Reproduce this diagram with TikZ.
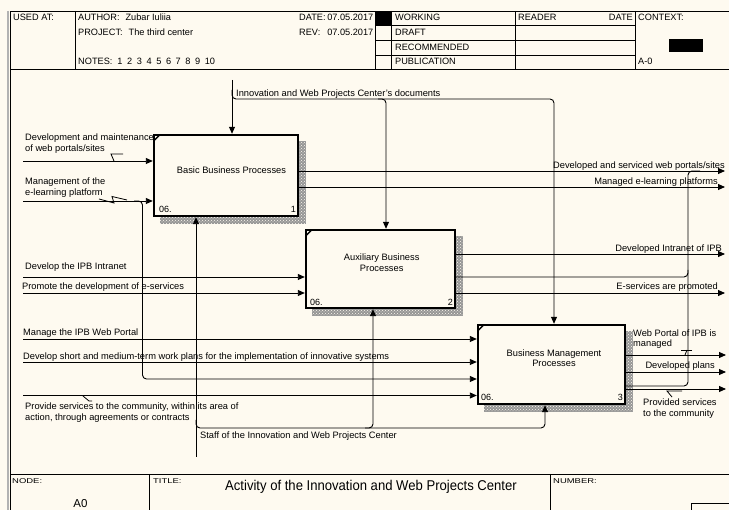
\documentclass[tikz,border=0pt]{standalone}
\usepackage{fontspec}
\setmainfont{Liberation Sans}
\usepackage{graphicx}
\usetikzlibrary{arrows.meta,patterns}
\definecolor{paper}{RGB}{254,250,240}
\definecolor{shadowgray}{RGB}{150,150,150}
\pgfdeclarelayer{paperlayer}
\pgfdeclarelayer{shadowlayer}
\pgfsetlayers{paperlayer,shadowlayer,main}
\newcommand\notegap{\hspace{4.6pt}}
\begin{document}
\begin{tikzpicture}[x=1pt,y=-1pt,
  frame/.style={line width=0.9pt},
  flow/.style={line width=0.9pt, rounded corners=4pt},
  tip/.style={-{Triangle[length=7pt,width=6pt]}},
  lbl/.style={font=\fontsize{9.3}{11}\selectfont, inner sep=0pt},
  lw/.style={lbl, anchor=base west},
  le/.style={lbl, anchor=base east},
  hdr/.style={font=\fontsize{9.2}{11}\selectfont, inner sep=0pt, anchor=base west},
  abox/.style={draw, line width=2.4pt, fill=paper, inner sep=0pt},
  shade/.style={preaction={fill=shadowgray}, pattern=crosshatch dots, pattern color=paper},
  squig/.style={line width=0.8pt},
]
\useasboundingbox (0,0) rectangle (729,510);
\begin{pgfonlayer}{paperlayer}
  \fill[paper] (0,0) rectangle (729,510);
\end{pgfonlayer}

% ---------- header block ----------
\draw[gray!60, line width=2pt] (8,11) -- (8,510);
\draw[frame] (10,510) -- (10,11) -- (729,11);
\draw[frame] (10,69) -- (729,69);
\foreach \xx in {75.3,375,391.5,515,635}
  \draw[frame] (\xx,11) -- (\xx,69);
\foreach \yy in {25.7,40.7,55.7}
  \draw[frame] (375,\yy) -- (635,\yy);
\fill (375,11) rectangle (391.5,25.7);
\fill (669,39) rectangle (703,52);

\node[hdr] (usedat) at (13,20.7) {USED AT:};
\node[hdr] (author) at (78,20.7) {AUTHOR:\hspace{6pt}Zubar Iuliia};
\node[hdr] (project) at (78,35.7) {PROJECT:\hspace{6pt}The third center};
\node[hdr] (notes) at (78,64.3) {NOTES:\hspace{5pt}1\notegap 2\notegap 3\notegap 4\notegap 5\notegap 6\notegap 7\notegap 8\notegap 9\notegap 10};
\node[hdr] (datek) at (299,20.7) {DATE:};
\node[hdr, anchor=base east] (datev) at (373.5,20.7) {07.05.2017};
\node[hdr] (revk) at (299,35.7) {REV:};
\node[hdr, anchor=base east] (revv) at (373.5,35.7) {07.05.2017};
\node[hdr] (working) at (395,20.5) {WORKING};
\node[hdr] (draft) at (395,35.5) {DRAFT};
\node[hdr] (recomm) at (395,50.5) {RECOMMENDED};
\node[hdr] (public) at (395,64.3) {PUBLICATION};
\node[hdr] (reader) at (518,20.5) {READER};
\node[hdr, anchor=base east] (rdate) at (633,20.5) {DATE};
\node[hdr] (context) at (638,20.5) {CONTEXT:};
\node[hdr] (aminus) at (638,64.3) {A-0};

% ---------- footer block ----------
\draw[frame] (10,474) -- (729,474);
\draw[frame] (149,474) -- (149,510);
\draw[frame] (550,474) -- (550,510);
\draw[frame] (691,510) -- (691,503) -- (729,503);
\node[inner sep=0pt, anchor=base west] (nodek) at (12,484) {\scalebox{1.35}[1]{\fontsize{7}{8}\selectfont NODE:}};
\node[inner sep=0pt, anchor=base west] (titlek) at (153,484) {\scalebox{1.35}[1]{\fontsize{7}{8}\selectfont TITLE:}};
\node[inner sep=0pt, anchor=base west] (numberk) at (553,484) {\scalebox{1.35}[1]{\fontsize{7}{8}\selectfont NUMBER:}};
\node[inner sep=0pt, anchor=base, font=\fontsize{13.5}{16}\selectfont] (title) at (371,491) {\scalebox{0.97}[1.05]{Activity of the Innovation and Web Projects Center}};
\node[inner sep=0pt, anchor=base, font=\fontsize{11.5}{14}\selectfont] (nodeid) at (80.5,508) {A0};

% ---------- activity boxes ----------
\node[abox, minimum width=144pt, minimum height=81pt] (b1) at (226,175.5) {};
\node[abox, minimum width=149pt, minimum height=78pt] (b2) at (380.5,269) {};
\node[abox, minimum width=147pt, minimum height=79pt] (b3) at (551.5,364.5) {};

\begin{pgfonlayer}{shadowlayer}
  \foreach \bx in {b1,b2,b3}
    \fill[shade] ([shift={(7,7)}]\bx.north west) rectangle ([shift={(7,7)}]\bx.south east);
\end{pgfonlayer}

\foreach \bx in {b1,b2,b3}
  \draw[line width=1.3pt] ([shift={(1.5,6.5)}]\bx.north west) -- ([shift={(6.5,1.5)}]\bx.north west);

\node[lbl, anchor=base] (b1t) at (231.5,173.3) {Basic Business Processes};
\node[lw, font=\fontsize{9}{11}\selectfont] (b1n) at (159,213) {06.};
\node[le, font=\fontsize{9}{11}\selectfont] (b1k) at (296,213) {1};

\node[lbl, anchor=base] (b2ta) at (381.7,260.7) {Auxiliary Business};
\node[lbl, anchor=base] (b2tb) at (381.7,271.7) {Processes};
\node[lw, font=\fontsize{9}{11}\selectfont] (b2n) at (310,305.5) {06.};
\node[le, font=\fontsize{9}{11}\selectfont] (b2k) at (453,305.5) {2};

\node[lbl, anchor=base] (b3ta) at (554,356.7) {Business Management};
\node[lbl, anchor=base] (b3tb) at (554,366.7) {Processes};
\node[lw, font=\fontsize{9}{11}\selectfont] (b3n) at (481,400.5) {06.};
\node[le, font=\fontsize{9}{11}\selectfont] (b3k) at (623,400.5) {3};

% ---------- controls ----------
\coordinate (docs) at (232,80);
\coordinate (c1) at (232,99);
\coordinate (c2) at (386,99);
\coordinate (c3) at (554,99);
\draw[flow,tip] (docs) -- (docs |- b1.north);
\draw[flow,tip] (232,90) -- (c1) -- (c3) -- (c3 |- b3.north);
\draw[flow,tip] (378,99) -- (c2) -- (c2 |- b2.north);
\node[lw] (docsl) at (236,96.5) {Innovation and Web Projects Center's documents};

% ---------- inputs ----------
\coordinate (i1) at (23,161);
\coordinate (i2) at (23,201);
\coordinate (i2b) at (142.5,379);
\coordinate (i3) at (23,277);
\coordinate (i4) at (23,293);
\coordinate (i5) at (23,339);
\coordinate (i6) at (23,362);
\coordinate (i7) at (23,395.5);
\draw[flow,tip] (i1) -- (i1 -| b1.west);
\draw[flow,tip] (i2) -- (i2 -| b1.west);
\draw[flow,tip] (134,201) -- (142.5,201) -- (i2b) -- (i2b -| b3.west);
\draw[flow,tip] (i3) -- (i3 -| b2.west);
\draw[flow,tip] (i4) -- (i4 -| b2.west);
\draw[flow,tip] (i5) -- (i5 -| b3.west);
\draw[flow,tip] (i6) -- (i6 -| b3.west);
\draw[flow,tip] (i7) -- (i7 -| b3.west);

\node[lw] (i1a) at (25,141) {Development and maintenance};
\node[lw] (i1b) at (25,151.5) {of web portals/sites};
\node[lw] (i2a) at (25,185) {Management of the};
\node[lw] (i2c) at (25,195.5) {e-learning platform};
\node[lw] (i3l) at (25,270) {Develop the IPB Intranet};
\node[lw] (i4l) at (22,290) {Promote the development of e-services};
\node[lw] (i5l) at (23,336) {Manage the IPB Web Portal};
\node[lw] (i6l) at (23,359.5) {Develop short and medium-term work plans for the implementation of innovative systems};
\node[lw] (i7a) at (25,410) {Provide services to the community, within its area of};
\node[lw] (i7b) at (25,420.5) {action, through agreements or contracts};

\draw[squig] (123,154) -- (111,154) -- (114,161);
\draw[squig] (99,199) -- (114,203) -- (112,196.5) -- (127,200);
\draw[squig] (83,396) -- (89,401) -- (92,401);

% ---------- mechanisms ----------
\coordinate (staff) at (196,457);
\coordinate (m1) at (196,428);
\coordinate (m2) at (373,428);
\coordinate (m3) at (545,428);
\draw[flow,tip] (staff) -- (staff |- b1.south);
\draw[flow,tip] (196,420) -- (m1) -- (m3) -- (m3 |- b3.south);
\draw[flow,tip] (365,428) -- (m2) -- (m2 |- b2.south);
\node[lw] (staffl) at (200,438.7) {Staff of the Innovation and Web Projects Center};

% ---------- outputs ----------
\coordinate (o1) at (725,171);
\coordinate (o2) at (725,187);
\coordinate (o3) at (725,254);
\coordinate (o4) at (725,293);
\coordinate (o5) at (726,355);
\coordinate (o6) at (726,372);
\coordinate (o7) at (726,389);
\coordinate (j2) at (688,277);
\coordinate (j3) at (688,386);
\draw[flow,tip] (o1 -| b1.east) -- (o1);
\draw[flow,tip] (o2 -| b1.east) -- (o2);
\draw[flow,tip] (o3 -| b2.east) -- (o3);
\draw[flow,tip] (o4 -| b2.east) -- (o4);
\draw[flow] (j2 -| b2.east) -- (j2) -- (688,171) -- (700,171);
\draw[flow,tip] (o5 -| b3.east) -- (o5);
\draw[flow,tip] (o6 -| b3.east) -- (o6);
\draw[flow,tip] (o7 -| b3.east) -- (o7);
\draw[flow] (j3 -| b3.east) -- (j3) -- (688,270);

\node[le] (o1l) at (725,168.3) {Developed and serviced web portals/sites};
\node[le] (o2l) at (718,185) {Managed e-learning platforms};
\node[le] (o3l) at (722,251.5) {Developed Intranet of IPB};
\node[le] (o4l) at (718,290) {E-services are promoted};
\node[lw] (o5a) at (633,336.7) {Web Portal of IPB is};
\node[lw] (o5b) at (633,346.5) {managed};
\node[le] (o6l) at (715,369) {Developed plans};
\node[lw] (o7a) at (643,406) {Provided services};
\node[lw] (o7b) at (643,416.7) {to the community};

\draw[squig] (692,350) -- (681,350);
\draw[squig] (687,350) -- (685,355);
\draw[squig] (682,391) -- (667,391) -- (672,397);
\end{tikzpicture}
\end{document}
